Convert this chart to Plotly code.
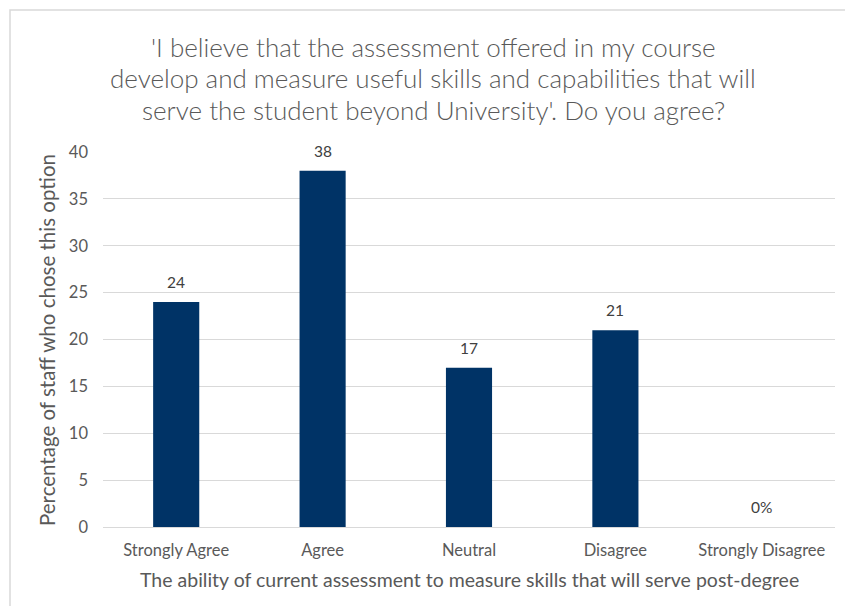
import plotly.graph_objects as go

# Survey responses (percentage of staff)
categories = ["Strongly Agree", "Agree", "Neutral", "Disagree", "Strongly Disagree"]
values = [24, 38, 17, 21, 0]
value_labels = ["24", "38", "17", "21", "0%"]
y_ticks = [0, 5, 10, 15, 20, 25, 30, 35, 40]

title_lines = [
    "'I believe that the assessment offered in my course",
    "develop and measure useful skills and capabilities that will",
    "serve the student beyond University'. Do you agree?",
]
x_title = "The ability of current assessment to measure skills that will serve post-degree"
y_title = "Percentage of staff who chose this option"

FONT = "Lato"
TEXT = "#595959"
W, H = 845, 606
L, R, T, B = 103, 10, 152, 79
pw, ph = W - L - R, H - T - B


def px_x(x):
    return (x - L) / pw


def px_y(y):
    return (H - B - y) / ph


fig = go.Figure()
fig.add_trace(go.Bar(
    x=categories, y=values, width=0.315,
    marker=dict(color="#003366", line=dict(width=0)),
    hoverinfo="skip",
))

annotations = []
for c, v, t in zip(categories, values, value_labels):
    annotations.append(dict(
        x=c, y=v, xref="x", yref="y", text=t, showarrow=False,
        yshift=20, font=dict(family=FONT, size=15.5, color="#404040"),
    ))

title_y = [47, 78, 110]
for line, yy in zip(title_lines, title_y):
    annotations.append(dict(
        x=px_x(433), y=px_y(yy), xref="paper", yref="paper",
        text=line, showarrow=False, xanchor="center", yanchor="middle",
        font=dict(family=FONT, size=26, color=TEXT, weight=300),
    ))

annotations.append(dict(
    x=px_x(470), y=px_y(579), xref="paper", yref="paper", text=x_title,
    showarrow=False, xanchor="center", yanchor="middle",
    font=dict(family=FONT, size=19.5, color=TEXT),
))
annotations.append(dict(
    x=px_x(47), y=px_y(340), xref="paper", yref="paper", text=y_title,
    showarrow=False, xanchor="center", yanchor="middle", textangle=-90,
    font=dict(family=FONT, size=20.5, color=TEXT),
))

fig.update_layout(
    width=W, height=H,
    margin=dict(l=L, r=R, t=T, b=B, pad=0),
    paper_bgcolor="white", plot_bgcolor="white",
    showlegend=False,
    annotations=annotations,
    shapes=[dict(
        type="rect", xref="paper", yref="paper",
        x0=px_x(10), x1=px_x(860), y0=px_y(620), y1=px_y(10),
        line=dict(color="#d9d9d9", width=1.5), fillcolor="rgba(0,0,0,0)",
        layer="below",
    )],
)

fig.update_xaxes(
    range=[-0.5, 4.5], showgrid=False, zeroline=False, showline=False,
    ticks="", tickfont=dict(family=FONT, size=16.5, color=TEXT),
    ticklabelstandoff=11,
)
fig.update_yaxes(
    range=[0, 40], tickvals=y_ticks, showgrid=True, gridcolor="#d9d9d9",
    gridwidth=1, zeroline=True, zerolinecolor="#d9d9d9", zerolinewidth=1,
    showline=False, ticks="", tickfont=dict(family=FONT, size=16.5, color=TEXT),
    ticklabelstandoff=14,
)

fig.write_html("out.html")
